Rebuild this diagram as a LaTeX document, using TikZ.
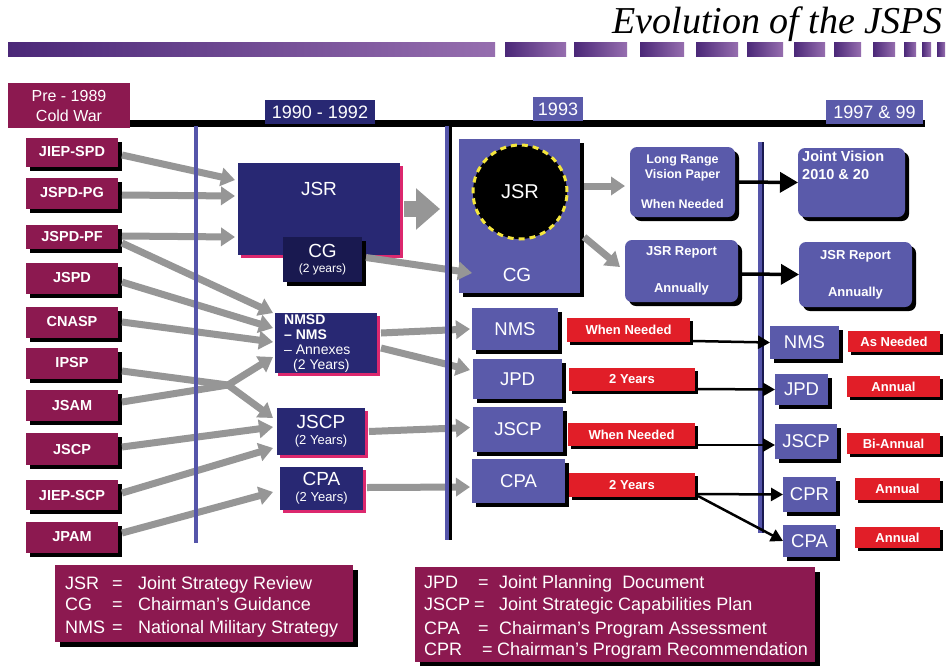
\documentclass[tikz,border=0pt]{standalone}
\usepackage{fontspec}
\setmainfont{Liberation Sans}
\newfontfamily\titlefont{Liberation Serif}
\usetikzlibrary{arrows.meta,shadows}
\newcommand\myfs[2]{\fontsize{#1}{#2}\selectfont}
\definecolor{maroon}{RGB}{140,25,80}
\definecolor{navy}{RGB}{40,40,115}
\definecolor{darknavy}{RGB}{25,25,80}
\definecolor{midblue}{RGB}{90,90,170}
\definecolor{lineblue}{RGB}{85,85,170}
\definecolor{redlab}{RGB}{225,30,40}
\definecolor{pinksh}{RGB}{220,40,110}
\definecolor{arrowgray}{RGB}{150,150,150}
\definecolor{yellowd}{RGB}{245,230,60}
\definecolor{bard}{RGB}{75,40,120}
\definecolor{barl}{RGB}{150,110,175}
\tikzset{
 base/.style={inner sep=0pt, outer sep=0pt, text=white, align=center},
 blkshadow/.style={drop shadow={shadow xshift=#1, shadow yshift=-#1, fill=black, opacity=1}},
 mbox/.style={base, fill=maroon, font=\bfseries\myfs{14.5}{16}, blkshadow=4pt},
 nbox/.style={base, fill=navy, drop shadow={shadow xshift=3pt, shadow yshift=-3pt, fill=pinksh, opacity=1}},
 dbox/.style={base, fill=darknavy, blkshadow=4pt},
 bbox/.style={base, fill=midblue, blkshadow=4pt},
 rbox/.style={bbox, rounded corners=7pt},
 redl/.style={base, fill=redlab, font=\bfseries\myfs{13}{15}, blkshadow=3pt},
 yearbox/.style={base, font=\myfs{18}{20}},
 garrow/.style={draw=arrowgray, line width=7pt, -{Triangle[length=14pt,width=18pt]}},
 barrow/.style={draw=black, line width=2.5pt, -{Triangle[length=12pt,width=13pt]}},
 barrowbig/.style={draw=black, line width=3.5pt, -{Triangle[length=18pt,width=20pt]}},
 vline/.style={draw=lineblue, line width=4.5pt},
 legtxt/.style={text=white, font=\myfs{18}{20}, anchor=base west, inner sep=0pt},
}
\begin{document}
\begin{tikzpicture}[x=1pt,y=-1pt]
\useasboundingbox (0,0) rectangle (948,665);
\fill[white] (0,0) rectangle (948,665);

% title and bar
\node[anchor=east, inner sep=0pt, font=\titlefont\itshape\myfs{38}{40}] (title) at (943,24) {Evolution of the JSPS};
\shade[left color=bard, right color=barl] (8,42) rectangle (495,56);
\foreach \a/\b in {505/566,574/627,640/684,696/738,747/783,794/825,834/861,873/895,904/916,922/931,937/945}
  {\shade[left color=bard, right color=barl] (\a,42) rectangle (\b,56);}

% timeline
\draw[line width=7pt] (105,123) -- (925,123);
\node[base, fill=maroon, font=\myfs{16}{20}, minimum width=122pt, minimum height=45pt] (pre) at (69,105.5) {Pre - 1989\\Cold War};
\node[yearbox, fill=navy, minimum width=110pt, minimum height=24pt] (y1) at (320,112) {1990 - 1992};
\node[yearbox, fill=midblue, minimum width=50pt, minimum height=24pt] (y2) at (558,109) {1993};
\node[yearbox, fill=midblue, minimum width=97pt, minimum height=24pt] (y3) at (874.5,112) {1997 \& 99};

% left column
\node[mbox, minimum width=92pt, minimum height=29pt] (l1) at (72,152) {JIEP-SPD};
\node[mbox, minimum width=92pt, minimum height=31pt] (l2) at (72,193) {JSPD-PG};
\node[mbox, minimum width=92pt, minimum height=24pt] (l3) at (72,237) {JSPD-PF};
\node[mbox, minimum width=92pt, minimum height=31pt] (l4) at (72,278) {JSPD};
\node[mbox, minimum width=92pt, minimum height=31pt] (l5) at (72,322) {CNASP};
\node[mbox, minimum width=92pt, minimum height=31pt] (l6) at (72,363) {IPSP};
\node[mbox, minimum width=92pt, minimum height=31pt] (l7) at (72,405) {JSAM};
\node[mbox, minimum width=92pt, minimum height=32pt] (l8) at (72,449) {JSCP};
\node[mbox, minimum width=92pt, minimum height=30pt] (l9) at (72,495) {JIEP-SCP};
\node[mbox, minimum width=92pt, minimum height=31pt] (l10) at (72,537) {JPAM};

% 1990-1992 column
\node[nbox, minimum width=162pt, minimum height=92pt, font=\myfs{19}{22}] (jsr) at (319,209) {JSR\\[18pt]};
\node[dbox, minimum width=79pt, minimum height=45pt] (cg) at (322.5,259.5) {\myfs{19}{20}CG\\[3pt]\myfs{12}{14}(2 years)};
\node[nbox, minimum width=102pt, minimum height=60pt] (nmsd) at (326,343) {};
\node[anchor=north west, inner sep=0pt, text=white, align=left, font=\myfs{14}{15}] (nmsdt) at (284,315)
  {\textbf{NMSD}\\\textbf{– NMS}\\– Annexes\\\hspace{9pt}(2 Years)};
\node[nbox, minimum width=88pt, minimum height=47pt] (jscp) at (321,431.5) {\myfs{19}{20}JSCP\\[4pt]\myfs{13}{15}(2 Years)};
\node[nbox, minimum width=83pt, minimum height=43pt] (cpa) at (321.5,488.5) {\myfs{19}{20}CPA\\[4pt]\myfs{13}{15}(2 Years)};

% 1993 column
\node[bbox, minimum width=121pt, minimum height=154pt] (b93) at (519.5,216) {};
\node[circle, fill=black, draw=yellowd, line width=3pt, dash pattern=on 6pt off 5pt, minimum size=94pt, inner sep=0pt, text=white, font=\myfs{20}{22}] (c93) at (520,192) {JSR};
\node[base, font=\myfs{19}{22}] (cg93) at (517,275) {CG};
\node[rbox, minimum width=105pt, minimum height=70pt, font=\bfseries\myfs{12.5}{15}] (lr) at (682.5,182) {Long Range\\Vision Paper\\[15pt]When Needed};
\node[rbox, minimum width=113pt, minimum height=62pt, font=\bfseries\myfs{13}{15}] (jr93) at (681.5,271) {JSR Report\\[22pt]Annually};
\node[bbox, minimum width=86pt, minimum height=42pt, font=\myfs{18.5}{20}] (nms93) at (515,329) {NMS};
\node[bbox, minimum width=89pt, minimum height=40pt, font=\myfs{18.5}{20}] (jpd93) at (517.5,379) {JPD};
\node[bbox, minimum width=90pt, minimum height=45pt, font=\myfs{18.5}{20}] (jscp93) at (518,429.5) {JSCP};
\node[bbox, minimum width=93pt, minimum height=44pt, font=\myfs{18.5}{20}] (cpa93) at (518.5,481) {CPA};
\node[redl, minimum width=123pt, minimum height=24pt] (r1) at (628.5,330) {When Needed};
\node[redl, minimum width=126pt, minimum height=23pt] (r2) at (632,379.5) {2 Years};
\node[redl, minimum width=127pt, minimum height=23pt] (r3) at (631.5,434.5) {When Needed};
\node[redl, minimum width=126pt, minimum height=24pt] (r4) at (632,485) {2 Years};

% 1997 & 99 column
\node[rbox, minimum width=107pt, minimum height=69pt] (jv) at (851.5,182.5) {};
\node[anchor=north west, inner sep=0pt, text=white, align=left, font=\bfseries\myfs{14.5}{18}] (jvt) at (802,151) {Joint Vision\\2010 \& 20};
\node[rbox, minimum width=113pt, minimum height=65pt, font=\bfseries\myfs{13}{15}] (jr97) at (855.5,274.5) {JSR Report\\[22pt]Annually};
\node[bbox, minimum width=69pt, minimum height=33pt, font=\myfs{18.5}{20}] (nms97) at (804.5,342.5) {NMS};
\node[bbox, minimum width=53pt, minimum height=31pt, font=\myfs{18.5}{20}] (jpd97) at (801.5,389.5) {JPD};
\node[bbox, minimum width=62pt, minimum height=35pt, font=\myfs{18.5}{20}] (jscp97) at (806,441.5) {JSCP};
\node[bbox, minimum width=53pt, minimum height=35pt, font=\myfs{18.5}{20}] (cpr97) at (809.5,494.5) {CPR};
\node[bbox, minimum width=53pt, minimum height=32pt, font=\myfs{18.5}{20}] (cpa97) at (809.5,541) {CPA};
\node[redl, minimum width=92pt, minimum height=21pt] (a1) at (894,341.5) {As Needed};
\node[redl, minimum width=93pt, minimum height=21pt] (a2) at (893.5,386.5) {Annual};
\node[redl, minimum width=93pt, minimum height=21pt] (a3) at (893.5,443.5) {Bi-Annual};
\node[redl, minimum width=85pt, minimum height=22pt] (a4) at (897.5,489) {Annual};
\node[redl, minimum width=85pt, minimum height=21pt] (a5) at (897.5,537.5) {Annual};

% gray arrows from the left column
\coordinate (xc) at (228,385);
\draw[garrow] ([xshift=4pt,yshift=-3pt]l1.east) -- ([xshift=-3pt,yshift=29pt]jsr.west);
\draw[garrow] ([xshift=4pt,yshift=-2pt]l2.east) -- ([xshift=-3pt,yshift=13pt]jsr.west);
\draw[garrow] ([xshift=4pt,yshift=1pt]l3.east) -- ([xshift=-3pt,yshift=-28pt]jsr.west);
\draw[garrow] ([xshift=4pt,yshift=-6pt]l3.east) -- ([xshift=-2pt,yshift=30pt]nmsd.west);
\draw[garrow] ([xshift=4pt,yshift=-4pt]l4.east) -- ([xshift=-2pt,yshift=15pt]nmsd.west);
\draw[garrow] ([xshift=4pt]l5.east) -- ([xshift=-2pt,yshift=1pt]nmsd.west);
\draw[garrow] ([xshift=4pt,yshift=-8pt]l6.east) -- (xc) -- ([xshift=-4pt,yshift=13.5pt]jscp.west);
\draw[garrow] ([xshift=4pt,yshift=3pt]l7.east) -- (xc) -- ([xshift=-2pt,yshift=-14pt]nmsd.west);
\draw[garrow] ([xshift=4pt,yshift=2pt]l8.east) -- ([xshift=-4pt,yshift=4.5pt]jscp.west);
\draw[garrow] ([xshift=4pt,yshift=2pt]l9.east) -- ([xshift=-4pt,yshift=-16.5pt]jscp.west);
\draw[garrow] ([xshift=4pt,yshift=4pt]l10.east) -- ([xshift=-7pt,yshift=-3.5pt]cpa.west);

% gray arrows from the middle column
\draw[draw=arrowgray, line width=16pt, -{Triangle[length=24pt,width=40pt]}] ([xshift=4pt]jsr.east) -- ([xshift=-19pt,yshift=7pt]b93.west);
\draw[garrow] ([xshift=4pt,yshift=2pt]cg.east) -- ([xshift=13pt,yshift=-57pt]b93.west);
\draw[garrow] ([xshift=4pt,yshift=10pt]nmsd.east) -- ([xshift=-2pt]nms93.west);
\draw[garrow] ([xshift=4pt,yshift=-5pt]nmsd.east) -- ([xshift=-3pt,yshift=9pt]jpd93.west);
\draw[garrow] ([xshift=4pt]jscp.east) -- ([xshift=-3pt,yshift=2pt]jscp93.west);
\draw[garrow] ([xshift=4pt,yshift=1pt]cpa.east) -- ([xshift=-2pt,yshift=-6pt]cpa93.west);
\draw[garrow] ([xshift=4pt,yshift=30pt]b93.east) -- ([xshift=-5pt,yshift=-4pt]lr.west);
\draw[garrow] ([xshift=4pt,yshift=-21pt]b93.east) -- ([xshift=-5pt,yshift=4pt]jr93.west);

% vertical time lines
\draw[vline] (196,126) -- (196,543);
\draw[line width=3pt] (450.5,126) -- (450.5,540);
\draw[vline] (447,126) -- (447,540);
\draw[line width=2pt, draw=darknavy] (763,142) -- (763,533);
\draw[vline] (760,142) -- (760,533);

% black arrows
\draw[barrowbig] ([xshift=4pt]lr.east) -- (jv.west);
\draw[barrowbig] ([xshift=4pt,yshift=-3pt]jr93.east) -- (jr97.west);
\draw[barrow] ([xshift=3pt,yshift=1pt]r1.south east) -- (nms97.west);
\draw[barrow] ([xshift=3pt,yshift=2pt]r2.south east) -- (jpd97.west);
\draw[barrow] ([xshift=3pt,yshift=1pt]r3.south east) -- ([yshift=-3.5pt]jscp97.west);
\draw[barrow] ([xshift=3pt,yshift=3pt]r4.south east) -- (cpr97.west);
\draw[barrow] ([xshift=3pt,yshift=1pt]r4.south east) -- (cpa97.west);

% legends
\node[base, fill=maroon, blkshadow=5pt, minimum width=298pt, minimum height=77pt] (leg1) at (204,603.5) {};
\node[legtxt] (g1a) at (65,589.5) {JSR};
\node[legtxt] (g1b) at (112,589.5) {=};
\node[legtxt] (g1c) at (138,589.5) {Joint Strategy Review};
\node[legtxt] (g2a) at (65,610.5) {CG};
\node[legtxt] (g2b) at (112,610.5) {=};
\node[legtxt] (g2c) at (138,610.5) {Chairman’s Guidance};
\node[legtxt] (g3a) at (65,633.5) {NMS};
\node[legtxt] (g3b) at (112,633.5) {=};
\node[legtxt] (g3c) at (138,633.5) {National Military Strategy};

\node[base, fill=maroon, blkshadow=5pt, minimum width=400pt, minimum height=95pt] (leg2) at (615,614.5) {};
\node[legtxt] (h1a) at (424,588.5) {JPD};
\node[legtxt] (h1b) at (478,588.5) {=};
\node[legtxt] (h1c) at (499,588.5) {Joint Planning\ \ Document};
\node[legtxt] (h2a) at (424,610.5) {JSCP};
\node[legtxt] (h2b) at (474,610.5) {=};
\node[legtxt] (h2c) at (499,610.5) {Joint Strategic Capabilities Plan};
\node[legtxt] (h3a) at (424,634.5) {CPA};
\node[legtxt] (h3b) at (478,634.5) {=};
\node[legtxt] (h3c) at (499,634.5) {Chairman’s Program Assessment};
\node[legtxt] (h4a) at (424,655.5) {CPR};
\node[legtxt] (h4b) at (482,655.5) {=};
\node[legtxt] (h4c) at (497,655.5) {Chairman’s Program Recommendation};
\end{tikzpicture}
\end{document}
